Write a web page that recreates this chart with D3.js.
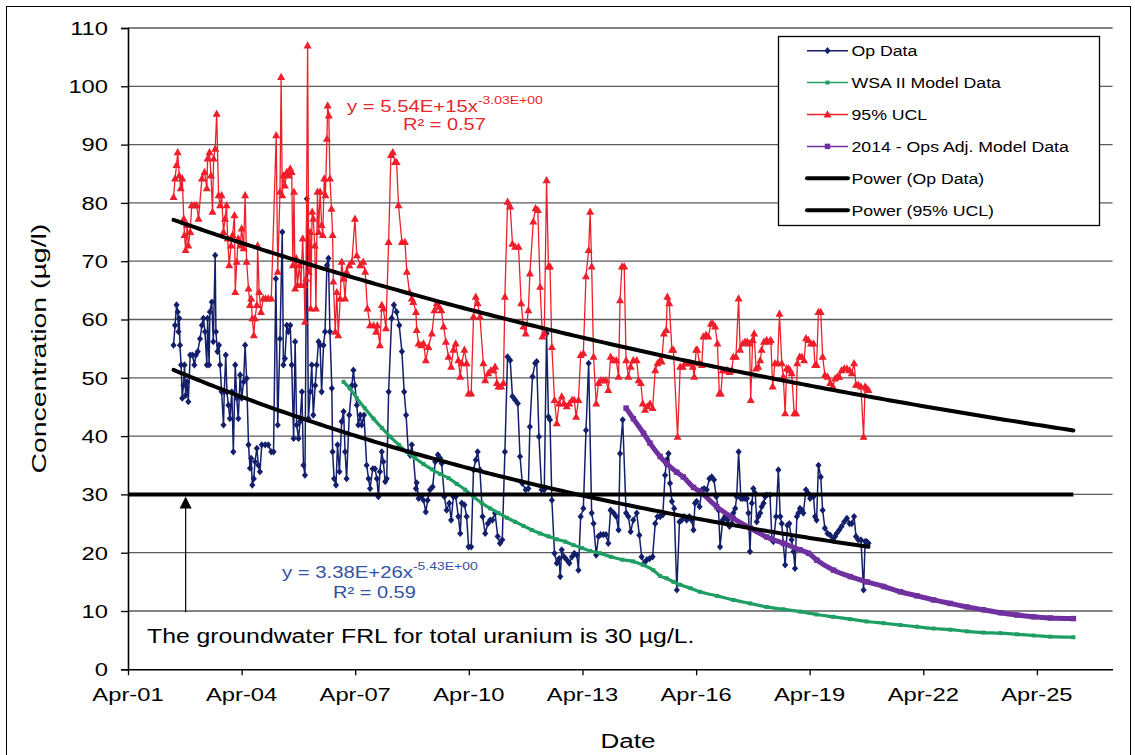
<!DOCTYPE html>
<html>
<head>
<meta charset="utf-8">
<script src="https://cdn.jsdelivr.net/npm/d3@7"></script>
<style>
  body { margin: 0; background: #fff; }
  svg { display: block; }
  text { font-family: "Liberation Sans", Arial, sans-serif; }
</style>
</head>
<body>
<svg id="chart" width="1135" height="755"></svg>
<script>
// ---- Data (dates as decimal years, concentrations in µg/l) ----
const opData = [
  [2002.45,55.6],[2002.49,59.0],[2002.53,62.5],[2002.56,61.3],[2002.58,57.9],[2002.60,60.2],[2002.62,55.6],[2002.65,52.2],[2002.68,46.5],[2002.71,48.7],[2002.74,52.2],[2002.77,47.0],[2002.81,49.3],[2002.84,45.9],[2002.89,53.9],[2002.95,53.9],[2003.00,52.2],[2003.04,53.9],[2003.09,54.5],[2003.15,56.7],[2003.20,59.0],[2003.24,60.2],[2003.28,57.9],[2003.33,52.2],[2003.35,60.2],[2003.39,52.2],[2003.41,61.3],[2003.46,63.0],[2003.50,56.2],[2003.55,71.0],[2003.57,57.9],[2003.61,54.5],[2003.65,55.6],[2003.68,52.2],[2003.72,47.6],[2003.77,41.9],[2003.79,47.6],[2003.83,53.9],[2003.86,47.6],[2003.90,45.3],[2003.94,43.0],[2003.99,47.6],[2004.03,37.3],[2004.08,52.2],[2004.12,46.5],[2004.16,43.0],[2004.21,50.5],[2004.25,46.5],[2004.30,49.3],[2004.34,55.6],[2004.38,49.9],[2004.43,38.5],[2004.47,34.5],[2004.50,36.2],[2004.53,31.6],[2004.57,32.7],[2004.60,35.6],[2004.65,37.9],[2004.69,35.0],[2004.73,33.9],[2004.78,38.5],[2004.87,38.5],[2004.95,38.5],[2005.03,37.3],[2005.09,37.3],[2005.15,67.0],[2005.20,41.9],[2005.26,56.7],[2005.32,75.0],[2005.35,52.2],[2005.39,53.3],[2005.44,59.0],[2005.48,57.9],
  [2005.53,59.0],[2005.57,52.2],[2005.62,39.6],[2005.66,56.2],[2005.70,41.9],[2005.75,39.6],[2005.79,42.5],[2005.84,47.6],[2005.88,35.0],[2005.92,33.3],[2005.97,80.7],[2006.01,43.0],[2006.06,47.6],[2006.10,52.2],[2006.14,43.6],[2006.19,48.7],[2006.23,52.2],[2006.28,56.2],[2006.32,55.6],[2006.36,47.6],[2006.41,55.6],[2006.45,57.9],[2006.50,69.3],[2006.54,70.5],[2006.58,57.9],[2006.63,48.2],[2006.65,37.3],[2006.69,32.7],[2006.74,31.6],[2006.78,38.5],[2006.83,33.9],[2006.89,42.5],[2006.94,44.2],[2006.98,37.3],[2007.02,32.7],[2007.09,43.6],[2007.16,48.7],[2007.20,51.3],[2007.24,48.7],[2007.29,45.3],[2007.33,41.9],[2007.38,43.6],[2007.42,41.9],[2007.48,43.6],[2007.55,35.0],[2007.60,32.7],[2007.64,31.0],[2007.71,34.4],[2007.77,34.4],[2007.82,32.7],[2007.86,29.6],[2007.90,33.9],[2007.95,37.3],[2007.99,35.6],[2008.04,32.2],[2008.08,32.7],[2008.13,47.6],[2008.21,60.2],[2008.27,62.5],[2008.34,61.3],[2008.41,59.0],[2008.48,54.5],[2008.54,47.6],[2008.59,43.6],[2008.65,37.3],[2008.70,36.7],[2008.74,38.5],[2008.78,36.7],[2008.85,31.0],
  [2008.87,32.0],[2008.92,29.3],[2008.99,29.6],[2009.05,29.0],[2009.11,27.0],[2009.16,29.0],[2009.22,30.8],[2009.29,31.3],[2009.36,35.6],[2009.43,36.8],[2009.49,36.2],[2009.53,35.3],[2009.60,29.6],[2009.66,27.3],[2009.73,28.5],[2009.78,25.6],[2009.84,29.6],[2009.90,29.6],[2009.97,26.2],[2010.02,23.3],[2010.06,28.5],[2010.13,28.2],[2010.19,26.2],[2010.24,21.0],[2010.31,21.0],[2010.37,34.2],[2010.43,35.9],[2010.48,37.3],[2010.54,34.2],[2010.61,26.2],[2010.68,23.3],[2010.75,25.0],[2010.81,25.6],[2010.87,25.6],[2010.94,26.8],[2011.01,22.8],[2011.07,21.6],[2011.13,22.2],[2011.20,37.3],[2011.27,53.6],[2011.34,53.0],[2011.40,46.8],[2011.47,46.2],[2011.54,45.6],[2011.60,36.5],[2011.66,31.9],[2011.75,30.8],[2011.82,31.0],[2011.86,41.6],[2011.93,50.2],[2012.00,52.5],[2012.04,52.8],[2012.10,39.9],[2012.17,30.8],[2012.24,30.8],[2012.30,57.6],[2012.35,43.3],[2012.39,42.8],[2012.44,29.0],[2012.51,19.9],[2012.57,18.2],[2012.63,19.0],
  [2012.66,15.9],[2012.70,20.5],[2012.76,19.3],[2012.83,18.8],[2012.90,18.2],[2012.97,19.3],[2013.03,19.9],[2013.10,19.6],[2013.14,17.0],[2013.20,26.2],[2013.27,27.6],[2013.34,41.0],[2013.41,52.5],[2013.49,26.8],[2013.54,25.0],[2013.61,19.6],[2013.67,22.8],[2013.73,23.1],[2013.80,23.1],[2013.87,23.1],[2013.93,21.6],[2013.99,27.3],[2014.07,26.8],[2014.14,26.2],[2014.20,23.9],[2014.24,37.0],[2014.31,42.8],[2014.40,26.8],[2014.46,26.2],[2014.52,23.6],[2014.59,25.6],[2014.68,26.8],[2014.75,23.0],[2014.81,19.3],[2014.88,18.2],[2014.95,18.8],[2015.02,19.0],[2015.10,19.3],[2015.17,25.0],[2015.23,26.2],[2015.30,26.2],[2015.37,26.5],[2015.43,33.3],[2015.47,35.9],[2015.52,37.0],[2015.56,31.9],[2015.61,28.8],[2015.67,27.6],[2015.74,13.6],[2015.81,25.3],[2015.87,25.6],[2015.93,26.2],[2016.00,25.6],[2016.07,26.2],[2016.13,25.6],[2016.18,23.9],[2016.22,28.5],[2016.26,28.8],[2016.34,27.9],
  [2016.40,30.8],[2016.46,31.0],[2016.53,30.8],[2016.60,32.7],[2016.66,33.0],[2016.72,32.5],[2016.78,29.6],[2016.84,27.3],[2016.88,21.0],[2016.95,25.6],[2017.01,26.2],[2017.08,25.6],[2017.13,24.5],[2017.19,25.0],[2017.23,26.8],[2017.28,27.6],[2017.32,29.6],[2017.37,37.3],[2017.43,29.3],[2017.48,29.3],[2017.54,29.3],[2017.59,29.3],[2017.63,26.8],[2017.67,20.2],[2017.72,28.5],[2017.76,31.0],[2017.81,30.2],[2017.85,25.3],[2017.89,26.2],[2017.94,26.8],[2017.98,27.9],[2018.03,28.5],[2018.07,29.6],[2018.11,29.9],[2018.20,29.9],[2018.25,22.2],[2018.29,21.9],[2018.36,26.2],[2018.42,34.2],[2018.47,26.2],[2018.51,25.0],[2018.55,21.6],[2018.60,17.9],[2018.66,24.7],[2018.71,25.0],[2018.77,22.2],[2018.82,20.2],[2018.86,17.3],[2018.91,26.2],[2018.95,26.8],[2018.99,27.6],[2019.04,27.3],[2019.08,26.8],[2019.15,30.8],[2019.21,30.2],[2019.26,29.3],[2019.35,29.6],[2019.39,26.2],[2019.43,25.6],[2019.48,35.0],[2019.54,33.0],[2019.59,27.3],[2019.65,24.2],[2019.72,23.3],[2019.79,23.0],[2019.86,22.2],[2019.92,22.8],[2019.96,23.3],[2020.03,23.9],[2020.09,24.5],[2020.16,25.3],[2020.23,25.9],[2020.30,25.0],[2020.36,25.0],[2020.42,26.2],[2020.47,22.8],[2020.53,22.2],[2020.60,22.2],[2020.67,13.6],[2020.71,21.9],[2020.75,21.9],[2020.80,21.6]
];

const uclData = [
  [2002.45,81.0],[2002.49,84.2],[2002.53,86.5],[2002.56,88.7],[2002.60,84.7],[2002.64,82.5],[2002.68,84.2],[2002.72,77.3],[2002.74,74.5],[2002.77,71.9],[2002.81,76.2],[2002.84,72.7],[2002.89,75.0],[2002.93,79.6],[2003.00,79.6],[2003.06,79.6],[2003.11,77.3],[2003.20,84.2],[2003.27,85.3],[2003.33,82.5],[2003.35,87.6],[2003.40,88.7],[2003.44,84.7],[2003.48,78.5],[2003.51,87.6],[2003.55,89.3],[2003.59,95.3],[2003.64,81.3],[2003.68,79.6],[2003.72,81.3],[2003.77,75.0],[2003.81,77.3],[2003.85,79.6],[2003.88,73.9],[2003.92,69.3],[2003.97,72.7],[2004.01,74.5],[2004.06,77.9],[2004.08,64.7],[2004.12,69.9],[2004.16,73.9],[2004.21,72.7],[2004.25,75.6],[2004.30,72.2],[2004.34,81.3],[2004.38,69.9],[2004.43,65.3],[2004.47,62.5],[2004.50,63.6],[2004.53,60.2],[2004.57,57.3],[2004.60,60.2],[2004.65,62.5],[2004.67,72.7],[2004.71,64.7],[2004.76,61.3],[2004.82,63.6],[2004.88,63.6],[2004.95,63.6],[2005.03,63.6],[2005.16,91.6],[2005.20,68.2],[2005.26,81.9],[2005.29,101.6],[2005.32,81.3],[2005.35,84.7],[2005.39,83.0],[2005.44,85.3],[2005.50,84.7],
  [2005.53,85.9],[2005.57,85.3],[2005.60,69.3],[2005.63,81.9],[2005.66,65.3],[2005.69,70.5],[2005.72,65.9],[2005.77,69.3],[2005.81,65.9],[2005.86,73.9],[2005.90,65.9],[2005.92,59.6],[2005.95,67.0],[2005.99,107.0],[2006.02,68.2],[2006.06,75.0],[2006.07,61.9],[2006.11,78.5],[2006.14,77.3],[2006.18,72.7],[2006.21,61.9],[2006.25,81.9],[2006.28,75.0],[2006.32,81.9],[2006.36,76.2],[2006.39,74.5],[2006.43,84.2],[2006.46,81.3],[2006.50,91.0],[2006.52,96.7],[2006.55,95.0],[2006.58,84.2],[2006.62,79.0],[2006.65,74.5],[2006.67,66.5],[2006.72,57.9],[2006.76,64.7],[2006.80,57.3],[2006.85,63.6],[2006.89,69.9],[2006.94,67.0],[2006.98,63.6],[2007.02,68.2],[2007.09,69.3],[2007.16,69.9],[2007.24,77.3],[2007.29,71.0],[2007.38,69.3],[2007.46,69.9],[2007.51,68.2],[2007.57,61.9],[2007.64,59.0],[2007.73,59.0],[2007.80,57.9],[2007.83,59.0],[2007.90,55.6],[2007.95,62.5],[2007.99,61.9],[2008.06,58.5],[2008.13,73.3],[2008.19,88.2],[2008.24,88.7],[2008.30,87.0],[2008.34,87.0],[2008.39,79.6],[2008.48,73.3],[2008.56,73.3],[2008.61,68.2],[2008.68,64.7],[2008.74,63.6],[2008.78,63.0],[2008.85,61.3],
  [2008.87,58.2],[2008.92,55.9],[2008.99,55.6],[2009.05,55.9],[2009.11,53.0],[2009.18,55.3],[2009.27,57.6],[2009.34,61.6],[2009.40,62.8],[2009.46,62.2],[2009.52,61.6],[2009.58,58.8],[2009.64,56.2],[2009.71,53.6],[2009.78,51.9],[2009.84,54.8],[2009.90,55.9],[2009.97,53.0],[2010.02,50.2],[2010.06,52.5],[2010.13,54.8],[2010.19,52.5],[2010.24,47.3],[2010.31,47.3],[2010.37,60.5],[2010.43,63.9],[2010.48,62.8],[2010.54,60.5],[2010.63,52.5],[2010.68,49.6],[2010.76,50.8],[2010.83,51.3],[2010.90,51.3],[2010.94,51.9],[2010.99,49.1],[2011.03,48.5],[2011.10,48.5],[2011.16,49.1],[2011.20,63.9],[2011.27,80.2],[2011.34,79.4],[2011.40,73.0],[2011.47,72.5],[2011.56,72.5],[2011.63,62.8],[2011.69,58.8],[2011.75,57.6],[2011.82,61.6],[2011.86,67.9],[2011.95,76.8],[2012.01,79.1],[2012.07,78.8],[2012.13,65.6],[2012.19,57.1],[2012.24,57.6],[2012.30,83.9],[2012.35,69.1],[2012.39,69.1],[2012.44,55.3],[2012.51,46.2],[2012.57,42.2],[2012.63,45.6],
  [2012.70,46.8],[2012.76,45.6],[2012.83,45.1],[2012.90,45.6],[2012.97,46.2],[2013.03,46.2],[2013.08,43.3],[2013.14,46.2],[2013.20,53.9],[2013.27,54.2],[2013.34,67.4],[2013.41,71.9],[2013.45,78.5],[2013.49,69.1],[2013.54,53.6],[2013.61,45.6],[2013.67,49.1],[2013.73,49.6],[2013.80,49.6],[2013.87,49.6],[2013.93,47.9],[2013.99,53.6],[2014.07,53.0],[2014.14,53.0],[2014.20,50.2],[2014.24,63.3],[2014.29,69.1],[2014.35,69.1],[2014.40,53.0],[2014.46,50.2],[2014.52,51.9],[2014.59,53.0],[2014.68,53.0],[2014.73,49.6],[2014.79,49.1],[2014.84,45.6],[2014.90,44.5],[2014.96,45.1],[2015.03,45.6],[2015.10,44.8],[2015.17,51.3],[2015.23,52.5],[2015.30,53.0],[2015.34,52.8],[2015.40,57.6],[2015.46,58.2],[2015.49,63.9],[2015.54,62.8],[2015.61,54.8],[2015.65,54.8],[2015.76,39.9],[2015.83,51.9],[2015.90,51.9],[2015.96,52.5],[2016.02,52.5],[2016.09,52.5],[2016.16,51.9],[2016.20,50.2],[2016.25,54.8],[2016.28,54.8],[2016.34,52.5],
  [2016.40,52.2],[2016.44,57.1],[2016.51,57.4],[2016.57,57.1],[2016.64,59.3],[2016.69,59.3],[2016.75,58.8],[2016.81,55.9],[2016.86,47.3],[2016.90,47.3],[2016.95,51.3],[2017.01,51.3],[2017.08,51.3],[2017.13,51.0],[2017.19,51.3],[2017.23,53.6],[2017.30,53.6],[2017.37,63.6],[2017.41,54.8],[2017.48,55.9],[2017.54,56.2],[2017.60,56.2],[2017.66,55.9],[2017.69,46.2],[2017.74,56.5],[2017.78,57.6],[2017.83,51.6],[2017.89,51.9],[2017.94,53.0],[2017.98,54.8],[2018.04,56.2],[2018.11,56.5],[2018.18,56.2],[2018.22,56.5],[2018.27,48.5],[2018.33,52.5],[2018.40,52.5],[2018.45,61.0],[2018.51,52.5],[2018.55,50.2],[2018.60,43.9],[2018.64,51.6],[2018.69,51.6],[2018.73,51.3],[2018.77,50.8],[2018.84,43.9],[2018.89,43.9],[2018.92,52.5],[2018.98,53.6],[2019.04,53.6],[2019.10,53.0],[2019.15,56.8],[2019.21,56.5],[2019.28,55.9],[2019.35,55.9],[2019.39,52.2],[2019.43,52.2],[2019.48,61.3],[2019.54,61.3],[2019.59,53.6],[2019.65,50.5],[2019.72,50.2],[2019.79,49.1],[2019.86,48.5],[2019.92,49.9],[2019.98,50.2],[2020.03,50.2],[2020.09,51.3],[2020.16,51.6],[2020.23,51.6],[2020.30,51.3],[2020.36,50.8],[2020.42,52.5],[2020.47,48.8],[2020.53,48.8],[2020.60,48.5],[2020.67,39.9],[2020.71,48.5],[2020.75,48.2],[2020.80,47.9]
];

const wsaModel = [
  [2006.94,49.3],[2007.10,48.2],[2007.29,46.5],[2007.50,44.8],[2007.73,43.0],[2007.95,41.4],[2008.17,39.9],[2008.40,38.5],[2008.61,37.3],[2008.83,36.2],[2009.05,35.2],[2009.27,34.3],[2009.49,33.5],[2009.71,32.8],[2009.93,31.8],[2010.15,30.8],[2010.37,29.6],[2010.59,28.5],[2010.81,27.6],[2011.03,26.8],[2011.25,26.0],[2011.47,25.3],[2011.69,24.6],[2011.91,23.9],[2012.13,23.3],[2012.35,22.8],[2012.57,22.3],[2012.79,21.9],[2013.01,21.3],[2013.23,20.8],[2013.45,20.3],[2013.71,19.9],[2014.00,19.3],[2014.30,18.8],[2014.59,18.5],[2014.85,17.9],[2015.12,17.0],[2015.30,16.0],[2015.47,15.6],[2015.65,15.0],[2015.83,14.5],[2016.10,13.9],[2016.35,13.3],[2016.80,12.6],[2017.23,11.9],[2017.67,11.3],[2018.11,10.7],[2018.55,10.3],[2019.00,9.9],[2019.43,9.4],[2019.87,9.0],[2020.31,8.6],[2020.75,8.2],[2021.20,7.9],[2021.64,7.6],[2022.08,7.3],[2022.52,7.0],[2022.96,6.8],[2023.40,6.5],[2023.84,6.3],[2024.28,6.2],[2024.72,6.0],[2025.16,5.8],[2025.60,5.6],[2026.21,5.5]
];

const opsAdjModel = [
  [2014.40,44.8],[2014.59,43.0],[2014.86,40.5],[2015.03,38.8],[2015.30,36.5],[2015.47,35.3],[2015.74,33.8],[2015.91,33.0],[2016.18,31.2],[2016.35,30.5],[2016.79,27.9],[2017.23,25.9],[2017.68,24.2],[2018.11,22.7],[2018.56,21.6],[2018.99,20.5],[2019.22,19.9],[2019.44,18.7],[2019.88,17.0],[2020.32,15.9],[2020.76,15.0],[2021.20,14.2],[2021.64,13.3],[2022.08,12.6],[2022.52,11.9],[2022.96,11.3],[2023.40,10.7],[2023.84,10.2],[2024.28,9.7],[2024.72,9.3],[2025.16,9.0],[2025.60,8.8],[2026.21,8.7]
];

// Power trendlines y = a * x^b, x = spreadsheet date serial
const powerOp  = { a: 3.38e26, b: -5.427, r2: 0.59, from: 2002.45, to: 2020.80 };
const powerUcl = { a: 5.54e15, b: -3.03,  r2: 0.57, from: 2002.45, to: 2026.21 };

const frlLevel = 30;
const frlArrowYear = 2002.77;
const frlNote = "The groundwater FRL for total uranium is 30 µg/L.";
const yTicks = d3.range(0, 111, 10);
const xTickYears = d3.range(2001, 2026, 3);
const legendLabels = ["Op Data", "WSA II Model Data", "95% UCL", "2014 - Ops Adj. Model Data", "Power (Op Data)", "Power (95% UCL)"];

// ---- Setup ----
const colors = { op: "#141f6b", wsa: "#1e9e63", ucl: "#ee1f2a", adj: "#7030a0", trend: "#000" };
const svg = d3.select("#chart");
const W = 1135, H = 755;
const plot = { left: 128, right: 1112.6, top: 28, bottom: 669.3 };

function toDate(y) {
  const yr = Math.floor(y);
  const s = Date.UTC(yr, 0, 1), e = Date.UTC(yr + 1, 0, 1);
  return new Date(s + (y - yr) * (e - s));
}
const serial = d => (d - Date.UTC(1899, 11, 30)) / 864e5;

const x = d3.scaleUtc()
  .domain([new Date(Date.UTC(2001, 3, 1)), new Date(Date.UTC(2027, 3, 1))])
  .range([plot.left, plot.right]);
const y = d3.scaleLinear().domain([0, 110]).range([plot.bottom, plot.top]);

// Text drawn wide along its baseline, as in the original workbook rendering
function label(g, px, py, str, o = {}) {
  const t = g.append("text")
    .attr("transform", `translate(${px},${py}) rotate(${o.rotate || 0}) scale(${o.sx || 1.25},1)`)
    .attr("font-size", o.size || 16)
    .attr("text-anchor", o.anchor || "start")
    .attr("fill", o.fill || "#000")
    .text(str);
  return t;
}

svg.append("rect").attr("width", W).attr("height", H).attr("fill", "#fff");
svg.append("rect").attr("x", 6.5).attr("y", 6.5).attr("width", 1124).attr("height", 770)
  .attr("fill", "none").attr("stroke", "#000").attr("stroke-width", 1);

// Gridlines
svg.append("g").selectAll("line").data(yTicks.filter(v => v > 0)).join("line")
  .attr("x1", plot.left).attr("x2", plot.right)
  .attr("y1", d => y(d)).attr("y2", d => y(d))
  .attr("stroke", "#5a5a5a").attr("stroke-width", 1.3);

// Axes
const yAxis = svg.append("g").attr("transform", `translate(${plot.left},0)`)
  .call(d3.axisLeft(y).tickValues(yTicks).tickSize(7).tickFormat(""));
const xTickDates = xTickYears.map(yr => new Date(Date.UTC(yr, 3, 1)));
const xAxis = svg.append("g").attr("transform", `translate(0,${plot.bottom})`)
  .call(d3.axisBottom(x).tickValues(xTickDates).tickSize(6).tickFormat("").tickSizeOuter(0));
[yAxis, xAxis].forEach(a => {
  a.select(".domain").attr("stroke", "#000").attr("stroke-width", 1.6);
  a.selectAll(".tick line").attr("stroke", "#000").attr("stroke-width", 1.3);
});
const tickLabels = svg.append("g");
yTicks.forEach(v => label(tickLabels, 108, y(v) + 6.8, String(v), { size: 19, anchor: "end", sx: 1.25 }));
const fmt = d3.utcFormat("%b-%y");
xTickDates.forEach(d => label(tickLabels, x(d), 701, fmt(d), { size: 19, anchor: "middle", sx: 1.25 }));

label(svg, 46, (plot.top + plot.bottom) / 2, "Concentration (µg/l)", { size: 20, anchor: "middle", rotate: -90, sx: 1.42 });
label(svg, 628, 748, "Date", { size: 21, anchor: "middle", sx: 1.24 });

// Series
const px = d => x(toDate(d[0]));
const py = d => y(d[1]);
const line = d3.line().x(px).y(py);
const smooth = d3.line().x(px).y(py).curve(d3.curveMonotoneX);

const diamond = "M0,-3.6L3.1,0L0,3.6L-3.1,0Z";
const triangle = "M0,-4.2L4,3L-4,3Z";
const square = s => `M${-s/2},${-s/2}h${s}v${s}h${-s}Z`;

function series(data, gen, color, width, shape) {
  const g = svg.append("g");
  g.append("path").datum(data).attr("d", gen).attr("fill", "none")
    .attr("stroke", color).attr("stroke-width", width).attr("stroke-linejoin", "round");
  g.selectAll("path.m").data(data).join("path").attr("class", "m")
    .attr("d", shape).attr("fill", color)
    .attr("transform", d => `translate(${px(d)},${py(d)})`);
}
series(opData, line, colors.op, 1.5, diamond);
series(wsaModel, smooth, colors.wsa, 3.2, square(4));
series(uclData, line, colors.ucl, 1.3, triangle);
series(opsAdjModel, smooth, colors.adj, 5, square(5.5));

// Power trendlines
function trend(p) {
  const dates = d3.range(0, 201).map(i => toDate(p.from + (p.to - p.from) * i / 200));
  const pts = dates.map(d => [x(d), y(p.a * Math.pow(serial(d), p.b))]);
  svg.append("path").datum(pts).attr("d", d3.line()).attr("fill", "none")
    .attr("stroke", colors.trend).attr("stroke-width", 4).attr("stroke-linecap", "round");
}
trend(powerOp);
trend(powerUcl);

// FRL line, arrow and note
svg.append("line")
  .attr("x1", plot.left).attr("x2", x(toDate(powerUcl.to)))
  .attr("y1", y(frlLevel)).attr("y2", y(frlLevel))
  .attr("stroke", "#000").attr("stroke-width", 4);
const ax = x(toDate(frlArrowYear));
svg.append("line").attr("x1", ax).attr("x2", ax).attr("y1", y(9.8)).attr("y2", y(frlLevel) + 12)
  .attr("stroke", "#000").attr("stroke-width", 1.2);
svg.append("path").attr("d", `M${ax},${y(frlLevel) + 2}L${ax + 6},${y(frlLevel) + 14}L${ax - 6},${y(frlLevel) + 14}Z`).attr("fill", "#000");
label(svg, 147, 643, frlNote, { size: 21, sx: 1.18 });

// Equations
function sci(v) {
  const [m, e] = v.toExponential(2).split("e");
  const n = parseInt(e, 10);
  return m + "E" + (n < 0 ? "-" : "+") + String(Math.abs(n)).padStart(2, "0");
}
function equation(p, x0, yb, x1, yb2, color) {
  const t = label(svg, x0, yb, "", { size: 16, fill: color, sx: 1.27 });
  t.append("tspan").text(`y = ${sci(p.a)}x`);
  t.append("tspan").attr("font-size", 11).attr("dy", -8).text(sci(p.b));
  label(svg, x1, yb2, `R² = ${p.r2.toFixed(2)}`, { size: 16, fill: color, sx: 1.25 });
}
equation(powerUcl, 347, 111.5, 403, 130, "#e8262d");
equation(powerOp, 282, 578, 333, 598, "#3353a4");

// Legend
const lg = svg.append("g");
lg.append("rect").attr("x", 778.5).attr("y", 36.5).attr("width", 321).attr("height", 189)
  .attr("fill", "#fff").attr("stroke", "#000").attr("stroke-width", 1.3);
const rowY = i => 50.7 + i * 31.9;
const legendStyles = [
  { c: colors.op, w: 1.5, m: diamond },
  { c: colors.wsa, w: 1.5, m: square(4) },
  { c: colors.ucl, w: 1.5, m: triangle },
  { c: colors.adj, w: 1.5, m: square(5.5) },
  { c: colors.trend, w: 4, m: null },
  { c: colors.trend, w: 4, m: null }
];
legendLabels.forEach((name, i) => {
  const s = legendStyles[i], cy = rowY(i);
  lg.append("line").attr("x1", 807).attr("x2", 848).attr("y1", cy).attr("y2", cy)
    .attr("stroke", s.c).attr("stroke-width", s.w).attr("stroke-linecap", s.m ? "butt" : "round");
  if (s.m) lg.append("path").attr("d", s.m).attr("fill", s.c).attr("transform", `translate(827.5,${cy})`);
  label(lg, 851.5, cy + 5.5, name, { size: 15, sx: 1.18 });
});
</script>
</body>
</html>
